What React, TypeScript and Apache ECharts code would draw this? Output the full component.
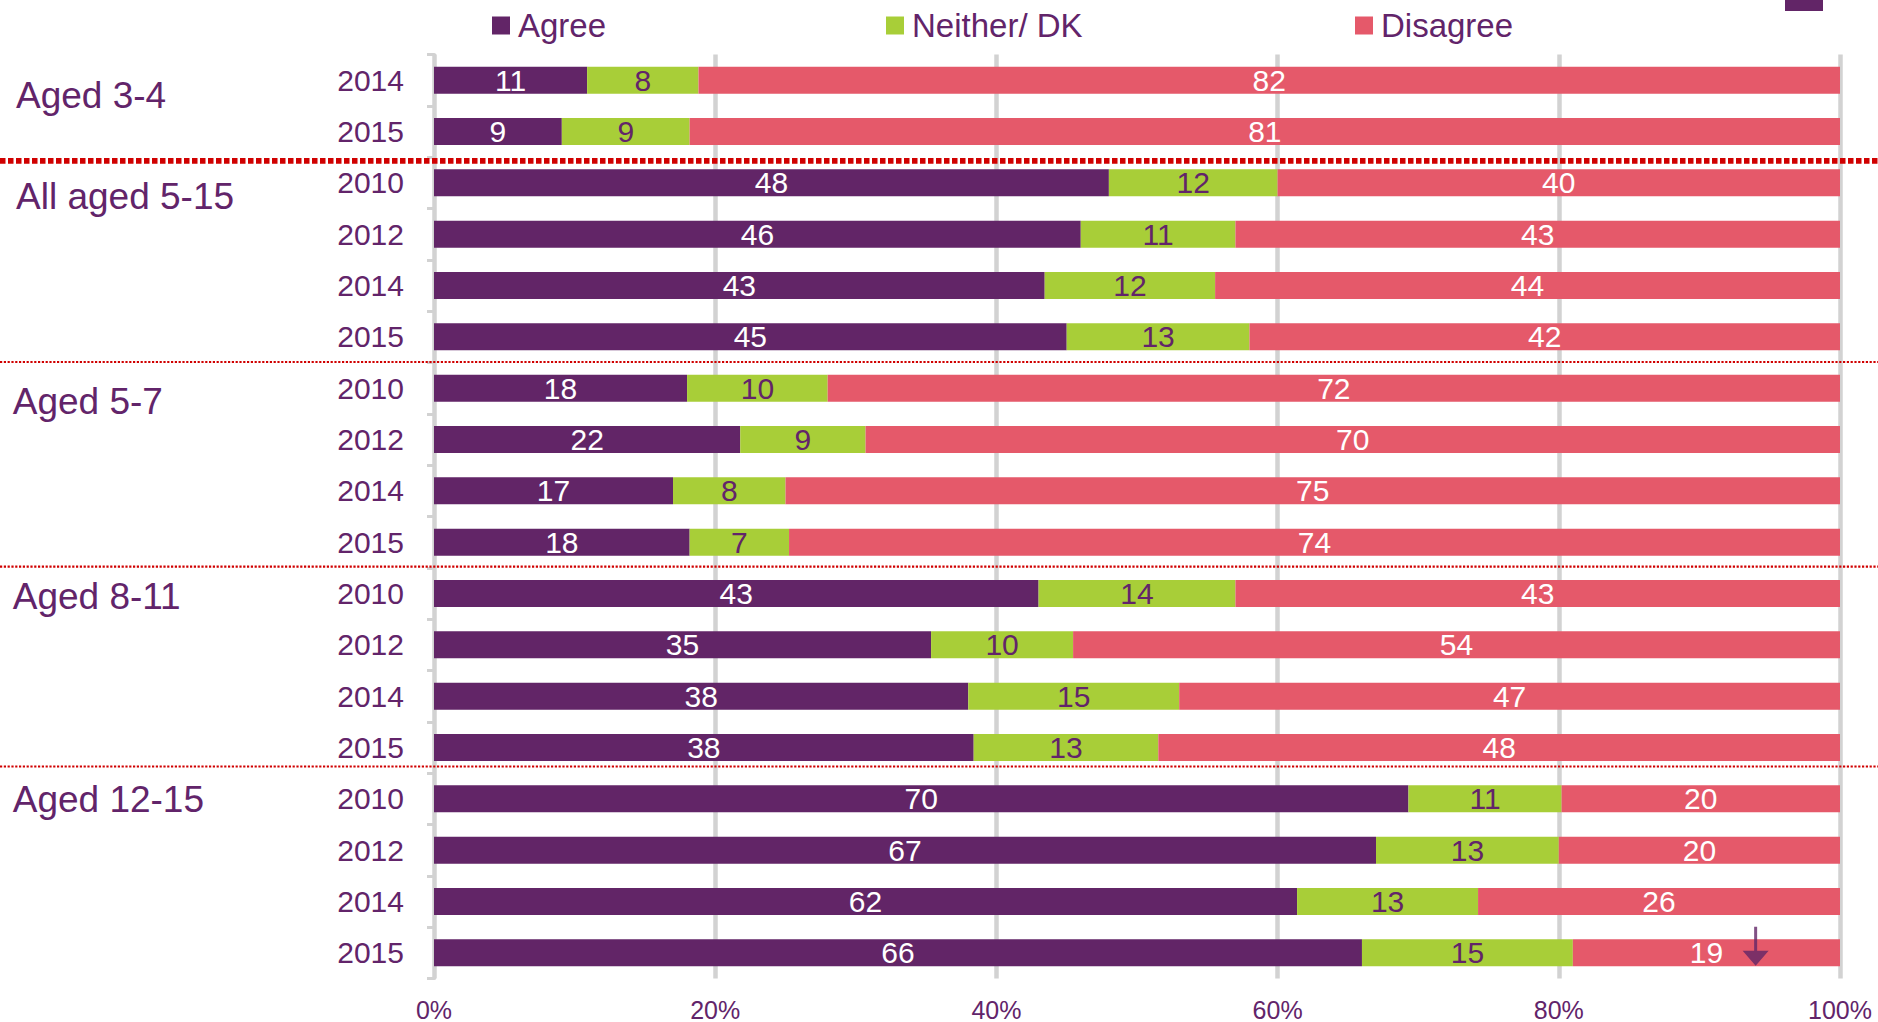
import React, { useEffect, useRef } from "react";
import * as echarts from "echarts";

// ---- data ----
const groups = ["Aged 3-4", "All aged 5-15", "Aged 5-7", "Aged 8-11", "Aged 12-15"];
const rowGroupIndex = [0, 0, 1, 1, 1, 1, 2, 2, 2, 2, 3, 3, 3, 3, 4, 4, 4, 4];
const rowYears = [
  "2014", "2015",
  "2010", "2012", "2014", "2015",
  "2010", "2012", "2014", "2015",
  "2010", "2012", "2014", "2015",
  "2010", "2012", "2014", "2015",
];
const agree = [11, 9, 48, 46, 43, 45, 18, 22, 17, 18, 43, 35, 38, 38, 70, 67, 62, 66];
const neither = [8, 9, 12, 11, 12, 13, 10, 9, 8, 7, 14, 10, 15, 13, 11, 13, 13, 15];
const disagree = [82, 81, 40, 43, 44, 42, 72, 70, 75, 74, 43, 54, 47, 48, 20, 20, 26, 19];
const seriesNames = ["Agree", "Neither/ DK", "Disagree"];
const xTicks = [0, 20, 40, 60, 80, 100];
// arrow annotation (value on the % axis, row index)
const arrowMark = { value: 94, row: 17 };

// ---- layout / style constants ----
const PURPLE = "#622567";
const GREEN = "#a8ce38";
const RED = "#e5596a";
const TEXT = "#62246a";
const GRIDGRAY = "#d2d2d2";
const DOT_RED = "#d00000";
const FONT = "'Liberation Sans', Arial, sans-serif";

// group label positions in row units, and their x
const groupLabelRows = [0.29, 2.275, 6.26, 10.05, 14.02];
const groupLabelX = [16, 16, 12.7, 12.7, 12.7];
// separator positions in row units
const separators = [
  { row: 1.574, thick: true },
  { row: 5.49, thick: false },
  { row: 9.475, thick: false },
  { row: 13.37, thick: false },
];

const rowKeys = rowYears.map((y, i) => groups[rowGroupIndex[i]] + "|" + y);
const totals = agree.map((v, i) => v + neither[i] + disagree[i]);

export default function App() {
  const ref = useRef<HTMLDivElement>(null);
  useEffect(() => {
    if (!ref.current) return;
    const chart = echarts.init(ref.current, null, { renderer: "svg" });
    const mkLabel = (raw: number[], color: string) => ({
      show: true,
      position: "inside",
      color,
      fontSize: 30,
      fontFamily: FONT,
      formatter: (p: any) => String(raw[p.dataIndex]),
    });
    const raws = [agree, neither, disagree];
    const colors = [PURPLE, GREEN, RED];
    const labelColors = ["#ffffff", TEXT, "#ffffff"];
    const legendLefts = [492, 886, 1355];

    chart.setOption({
      animation: false,
      grid: { left: 434, right: 38, top: 54.5, bottom: 43 },
      legend: seriesNames.map((n, i) => ({
        data: [n],
        left: legendLefts[i],
        top: 9,
        padding: 0,
        itemWidth: 18,
        itemHeight: 18,
        icon: "rect",
        selectedMode: false,
        textStyle: {
          fontSize: 33,
          lineHeight: 33,
          color: TEXT,
          fontFamily: FONT,
          padding: [0, 0, 0, 3],
        },
      })),
      xAxis: {
        type: "value",
        min: 0,
        max: 100,
        interval: 20,
        axisLine: { show: false },
        axisTick: { show: false },
        splitLine: { show: true, lineStyle: { color: GRIDGRAY, width: 4.5 } },
        axisLabel: {
          formatter: (v: number) => (xTicks.includes(v) ? v + "%" : ""),
          color: TEXT,
          fontSize: 25,
          fontFamily: FONT,
          margin: 18.5,
        },
      },
      yAxis: {
        type: "category",
        inverse: true,
        data: rowKeys,
        offset: 2,
        axisLine: { show: true, lineStyle: { color: GRIDGRAY, width: 3 } },
        axisTick: { show: true, length: 7, lineStyle: { color: GRIDGRAY, width: 3 } },
        axisLabel: {
          formatter: (v: string) => v.split("|")[1],
          color: TEXT,
          fontSize: 30,
          fontFamily: FONT,
          margin: 28,
        },
        splitLine: { show: false },
      },
      series: [
        ...seriesNames.map((n, s) => ({
          name: n,
          type: "bar",
          stack: "total",
          barWidth: 27,
          itemStyle: { color: colors[s] },
          label: mkLabel(raws[s], labelColors[s]),
          emphasis: { disabled: true },
          data: raws[s].map((v, i) => (v / totals[i]) * 100),
        })),
        {
          name: "arrow",
          type: "scatter",
          symbol: "path://M11.5,0 L14.5,0 L14.5,24 L26,24 L13,39 L0,24 L11.5,24 Z",
          symbolSize: [26, 39],
          symbolOffset: [0, -6.7],
          itemStyle: { color: PURPLE },
          z: 10,
          silent: true,
          data: [[arrowMark.value, rowKeys[arrowMark.row]]],
        },
      ],
    });

    const y0 = chart.convertToPixel({ yAxisIndex: 0 }, rowKeys[0]) as number;
    const y1 = chart.convertToPixel({ yAxisIndex: 0 }, rowKeys[1]) as number;
    const step = y1 - y0;
    const rowY = (r: number) => y0 + r * step;

    const graphic: any[] = [];
    separators.forEach((s) => {
      graphic.push({
        type: "line",
        z: 1,
        shape: { x1: 0, y1: rowY(s.row), x2: 1878, y2: rowY(s.row) },
        style: {
          stroke: DOT_RED,
          lineWidth: s.thick ? 5.7 : 2.2,
          lineDash: s.thick ? [5.5, 2.5] : [2.2, 1.6],
        },
      });
    });
    groups.forEach((g, i) => {
      graphic.push({
        type: "text",
        x: groupLabelX[i],
        y: rowY(groupLabelRows[i]),
        style: {
          text: g,
          fill: TEXT,
          fontSize: 37,
          fontFamily: FONT,
          align: "left",
          verticalAlign: "middle",
        },
      });
    });
    graphic.push({
      type: "rect",
      shape: { x: 1785, y: 0, width: 38, height: 11 },
      style: { fill: PURPLE },
    });
    chart.setOption({ graphic });

    return () => chart.dispose();
  }, []);
  return (
    <div
      ref={ref}
      style={{ position: "absolute", left: 0, top: 0, width: 1878, height: 1022 }}
    />
  );
}
